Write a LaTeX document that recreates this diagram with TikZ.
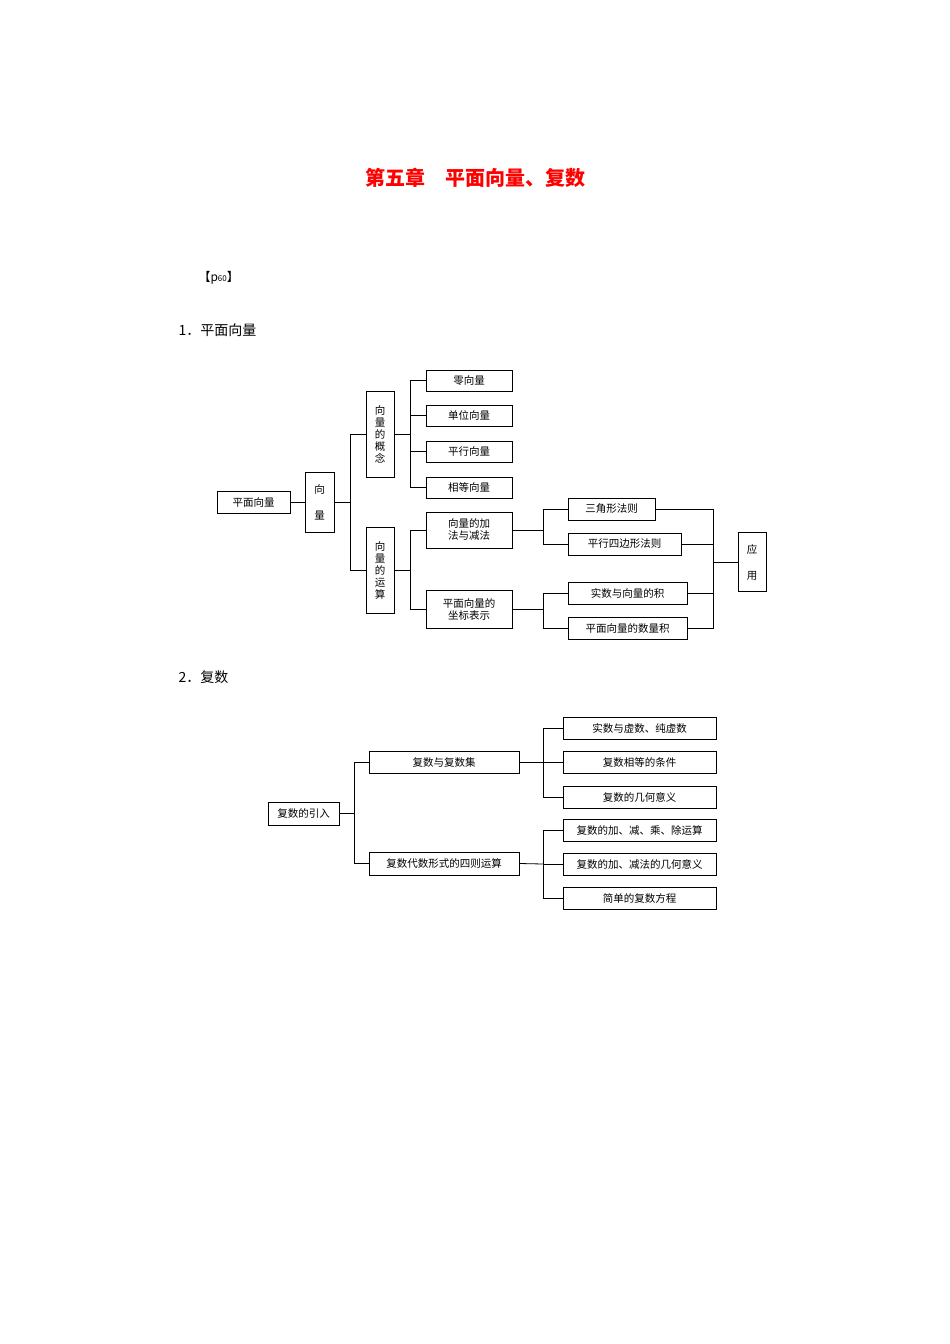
\documentclass[tikz,border=0pt]{standalone}
\usepackage{fontspec}
\setmainfont{Liberation Serif}
\newfontfamily\cjk{Noto Sans CJK SC}
\begin{document}
\begin{tikzpicture}[x=1pt,y=-1pt,
  box/.style={draw,line width=1pt,inner sep=0pt,font=\cjk\fontsize{10.5}{12}\selectfont,align=center},
  ln/.style={line width=0.8pt}]
\useasboundingbox (0,0) rectangle (950,1344);
\node[font=\cjk\bfseries\fontsize{20}{24}\selectfont,text=red] (title) at (475,178) {第五章\quad 平面向量、复数};
\node[anchor=west,font=\cjk\fontsize{12}{14}\selectfont] (p) at (195,278) {【p{\fontsize{8}{9}\selectfont 60}】};
\node[anchor=west,font=\cjk\fontsize{14}{16}\selectfont] (s1) at (175,330) {1．平面向量};
\node[anchor=west,font=\cjk\fontsize{14}{16}\selectfont] (s2) at (175,677) {2．复数};
% part 1
\node[box,minimum width=73,minimum height=22] (pm) at (253.5,502) {平面向量};
\node[box,minimum width=29,minimum height=60] (xl) at (319.5,502) {向\\[14pt]量};
\node[box,minimum width=28,minimum height=86] (gn) at (380,434) {向\\量\\的\\概\\念};
\node[box,minimum width=28,minimum height=86] (ys) at (380,570) {向\\量\\的\\运\\算};
\node[box,minimum width=86,minimum height=21] (a1) at (469,380.5) {零向量};
\node[box,minimum width=86,minimum height=21] (a2) at (469,415.5) {单位向量};
\node[box,minimum width=86,minimum height=21] (a3) at (469,451.5) {平行向量};
\node[box,minimum width=86,minimum height=21] (a4) at (469,487.5) {相等向量};
\node[box,minimum width=86,minimum height=36] (b1) at (469,530) {向量的加\\法与减法};
\node[box,minimum width=86,minimum height=38] (b2) at (469,609.5) {平面向量的\\坐标表示};
\node[box,minimum width=87,minimum height=22] (c1) at (611.5,509) {三角形法则};
\node[box,minimum width=113,minimum height=22] (c2) at (624.5,544) {平行四边形法则};
\node[box,minimum width=119,minimum height=22] (c3) at (627.5,593) {实数与向量的积};
\node[box,minimum width=119,minimum height=22] (c4) at (627.5,628) {平面向量的数量积};
\node[box,minimum width=28,minimum height=59] (yy) at (752,562) {应\\[14pt]用};
\draw[ln] (pm.east) -- (xl.west);
\draw[ln] (xl.east) -- ++(16,0) coordinate (j1);
\draw[ln] (j1) |- (gn.west); \draw[ln] (j1) |- (ys.west);
\draw[ln] (gn.east) -- ++(16,0) coordinate (j2);
\foreach \n in {a1,a2,a3,a4} \draw[ln] (j2) |- (\n.west);
\draw[ln] (ys.east) -- ++(16,0) coordinate (j3);
\draw[ln] (j3) |- (b1.west); \draw[ln] (j3) |- (b2.west);
\draw[ln] (b1.east) -- ++(31,0) coordinate (j4);
\draw[ln] (j4) |- (c1.west); \draw[ln] (j4) |- (c2.west);
\draw[ln] (b2.east) -- ++(31,0) coordinate (j5);
\draw[ln] (j5) |- (c3.west); \draw[ln] (j5) |- (c4.west);
\coordinate (j6) at (713,562);
\foreach \n in {c1,c2,c3,c4} \draw[ln] (\n.east) -| (j6);
\draw[ln] (j6) -- (yy.west);
% part 2
\node[box,minimum width=71,minimum height=23] (fy) at (303.5,813.5) {复数的引入};
\node[box,minimum width=150,minimum height=22] (d1) at (444,762) {复数与复数集};
\node[box,minimum width=150,minimum height=23] (d2) at (444,863.5) {复数代数形式的四则运算};
\node[box,minimum width=153,minimum height=22] (e1) at (639.5,728) {实数与虚数、纯虚数};
\node[box,minimum width=153,minimum height=22] (e2) at (639.5,762) {复数相等的条件};
\node[box,minimum width=153,minimum height=22] (e3) at (639.5,797) {复数的几何意义};
\node[box,minimum width=153,minimum height=22] (e4) at (639.5,830) {复数的加、减、乘、除运算};
\node[box,minimum width=153,minimum height=22] (e5) at (639.5,864) {复数的加、减法的几何意义};
\node[box,minimum width=153,minimum height=22] (e6) at (639.5,898) {简单的复数方程};
\draw[ln] (fy.east) -- ++(15,0) coordinate (k1);
\draw[ln] (k1) |- (d1.west); \draw[ln] (k1) |- (d2.west);
\coordinate (k2) at (543,762);
\draw[ln] (d1.east) -- (k2);
\foreach \n in {e1,e2,e3} \draw[ln] (k2) |- (\n.west);
\coordinate (k3) at (543,864);
\draw[ln] (d2.east) -- (k3);
\foreach \n in {e4,e5,e6} \draw[ln] (k3) |- (\n.west);
\end{tikzpicture}
\end{document}
